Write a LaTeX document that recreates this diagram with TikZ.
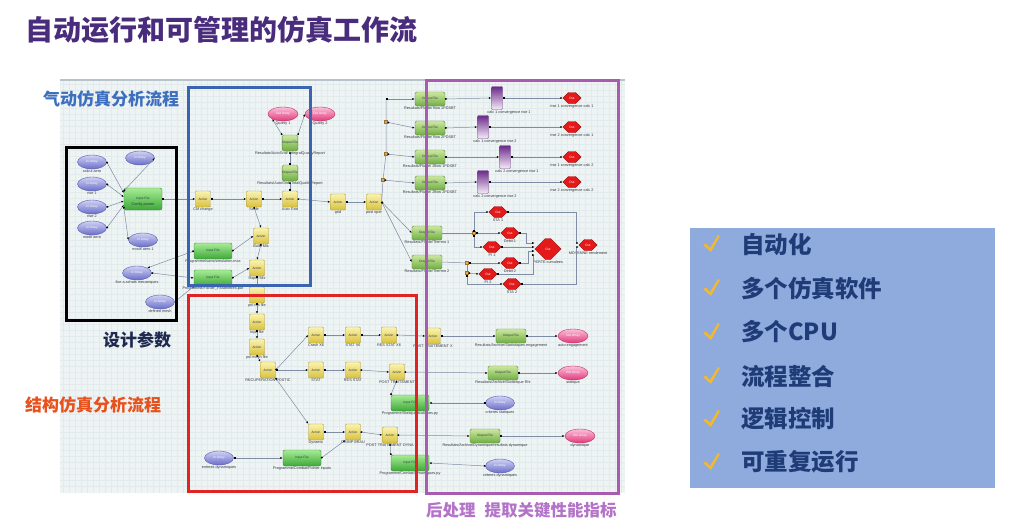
\documentclass[tikz,border=0pt]{standalone}
\usepackage{fontspec}
\setmainfont{Liberation Sans}
\newfontfamily\cjk{Noto Sans CJK SC}
\usetikzlibrary{shapes.geometric,shapes.symbols,arrows.meta,calc}
\definecolor{titlec}{HTML}{4A2C7C}
\definecolor{bluelab}{HTML}{3C6FC0}
\definecolor{navy}{HTML}{1E2A50}
\definecolor{redlab}{HTML}{E8501C}
\definecolor{purlab}{HTML}{B373C8}
\definecolor{panelbg}{HTML}{EEF3F3}
\definecolor{gridc}{HTML}{E2EAEC}
\definecolor{panelline}{HTML}{B8C2CA}
\definecolor{rpanel}{HTML}{8FAADC}
\definecolor{rtext}{HTML}{1F3C78}
\definecolor{checkc}{HTML}{F2B830}
\definecolor{fblue}{HTML}{3B64B0}
\definecolor{fred}{HTML}{E02424}
\definecolor{fpur}{HTML}{A85CB0}
\definecolor{acttop}{HTML}{FBF3B0}
\definecolor{actbot}{HTML}{D9C23E}
\definecolor{actd}{HTML}{A89830}
\definecolor{inftop}{HTML}{A6EC96}
\definecolor{infbot}{HTML}{3DA838}
\definecolor{infd}{HTML}{3A8A3A}
\definecolor{outtop}{HTML}{CDE8A0}
\definecolor{outbot}{HTML}{6EAE42}
\definecolor{outd}{HTML}{5A8A40}
\definecolor{iatop}{HTML}{D0D2F4}
\definecolor{iabot}{HTML}{6A6EC8}
\definecolor{iad}{HTML}{5A5CB0}
\definecolor{oatop}{HTML}{FBC0DA}
\definecolor{oabot}{HTML}{E03A7C}
\definecolor{oad}{HTML}{C03060}
\definecolor{hexf}{HTML}{E41A1A}
\definecolor{hexd}{HTML}{A01010}
\definecolor{cvtop}{HTML}{6A2A8A}
\definecolor{cvbot}{HTML}{F6ECF8}
\definecolor{cvd}{HTML}{7A4A90}
\definecolor{jnf}{HTML}{E8B060}
\definecolor{jnd}{HTML}{A07020}
\definecolor{lnc}{HTML}{7F8CA6}
\definecolor{lblc}{HTML}{333A44}
\tikzset{
 base/.style={inner sep=0pt, font=\fontsize{3.2}{3.5}\selectfont},
 act/.style={base, draw=actd, rounded corners=1pt, top color=acttop, bottom color=actbot, minimum width=15pt, minimum height=16pt, text=lblc},
 inf/.style={base, draw=infd, rounded corners=2pt, top color=inftop, bottom color=infbot, minimum width=38pt, minimum height=16pt, text=lblc},
 outf/.style={base, draw=outd, rounded corners=1.5pt, top color=outtop, bottom color=outbot, minimum width=30pt, minimum height=14pt, text=lblc},
 outfs/.style={outf, minimum width=15pt, minimum height=16pt},
 inarr/.style={base, ellipse, draw=iad, top color=iatop, bottom color=iabot, minimum width=29pt, minimum height=14pt, text=white},
 outarr/.style={base, ellipse, draw=oad, top color=oatop, bottom color=oabot, minimum width=30pt, minimum height=14pt, text=white},
 hexa/.style={base, signal, signal to=east and west, draw=hexd, fill=hexf, minimum width=18pt, minimum height=11pt, text=white},
 conv/.style={base, draw=cvd, rounded corners=1pt, top color=cvtop, bottom color=cvbot, minimum width=11pt, minimum height=23pt},
 jn/.style={draw=jnd, fill=jnf, minimum size=3pt, inner sep=0pt, rectangle},
 lbl/.style={font=\fontsize{3.8}{4}\selectfont, text=lblc, inner sep=0.8pt},
 conn/.style={draw=lnc, line width=0.5pt, {Square[length=1.5pt,width=1.5pt,color=black]}-{Latex[length=2.4pt,width=2pt,color=black]}},
 plain/.style={draw=lnc, line width=0.5pt},
 frame/.style={line width=3pt},
}
\begin{document}
\begin{tikzpicture}[x=1pt,y=-1pt]
\useasboundingbox (0,0) rectangle (1024,527);
\fill[white] (0,0) rectangle (1024,527);
% title
\node[anchor=west, text=titlec, font=\cjk\bfseries\fontsize{28}{30}\selectfont, inner sep=0pt] (title) at (25,30) {自动运行和可管理的仿真工作流};
% panel
\fill[panelbg] (60,80) rectangle (625,493);
\foreach \gx in {63,69,...,621} {\draw[gridc, line width=0.25pt] (\gx,80) -- (\gx,493);}
\foreach \gy in {84,90,...,490} {\draw[gridc, line width=0.25pt] (60,\gy) -- (625,\gy);}
\draw[panelline, line width=2pt] (60,80) -- (625,80);

% ---------- left: design parameters ----------
\node[inarr, label={[lbl]below:calcul aero}] (ia1) at (92,162) {In Array};
\node[inarr, label={[lbl]below:rise 1}] (ia2) at (92,184) {In Array};
\node[inarr, label={[lbl]below:rise 2}] (ia3) at (92,207) {In Array};
\node[inarr, label={[lbl]below:modif aero}] (ia4) at (92,228) {In Array};
\node[inarr] (ia5) at (140,158) {In Array};
\node[inarr, label={[lbl]below:modif aero 1}] (ia6) at (143,240) {In Array};
\node[inf, minimum height=22pt, label={[lbl,yshift=8pt]below:Config param}] (cfg) at (143,199) {Input File};
\node[inarr, label={[lbl]below:fixe a achats mecaniques}] (ia7) at (137,273) {In Array};
\node[inarr, label={[lbl]below:defined mesh}] (ia8) at (160,302) {In Array};

% ---------- blue: aero ----------
\node[act, label={[lbl]below:CM change}] (a1) at (203,199) {Action};
\node[act, label={[lbl]below:Scale}] (a2) at (254,199) {Action};
\node[act, label={[lbl]below:Auto Grid}] (a3) at (290,199) {Action};
\node[act, label={[lbl]below:Build Mix}] (a4) at (261,236) {Action};
\node[act, label={[lbl]below:Rapid Mix}] (a5) at (257,268) {Action};
\node[inf, label={[lbl]below:Programme/sans/simulation.mac}] (if1) at (213,251) {Input File};
\node[inf, label={[lbl]below:Programme/Fichier\_Parametres.par}] (if2) at (213,278) {Input File};
\node[outarr, label={[lbl]below:Quality 1}] (qa1) at (283,114) {Out Array};
\node[outarr, label={[lbl]below:Quality 2}] (qa2) at (320,114) {Out Array};
\node[outfs, label={[lbl]below:Resultats/AutoGrid/ IntegralQualityReport}] (of1) at (290,143) {Output File};
\node[outfs, label={[lbl]below:Resultats/AutoGrid/ TotalQualityReport}] (of2) at (290,173) {Output File};
\node[act, label={[lbl]below:grid}] (a6) at (338,202) {Action};
\node[act, label={[lbl]below:post oper}] (a7) at (374,202) {Action};

% ---------- purple: post-processing ----------
\node[outf, label={[lbl]below:Resultats/Fluide/ flow 1PDSBT}] (o1) at (430,99) {Output File};
\node[outf, label={[lbl]below:Resultats/Fluide/ flow 2PDSBT}] (o2) at (430,128) {Output File};
\node[outf, label={[lbl]below:Resultats/Fluide/ 2flow 1PDSBT}] (o3) at (430,157) {Output File};
\node[outf, label={[lbl]below:Resultats/Fluide/ 2flow 2PDSBT}] (o4) at (430,183) {Output File};
\node[conv, label={[lbl,xshift=12pt]below:calc 1 convergence rise 1}] (cv1) at (497,98) {};
\node[conv, label={[lbl,xshift=12pt]below:calc 1 convergence rise 2}] (cv2) at (483,127) {};
\node[conv, label={[lbl,xshift=12pt]below:calc 2 convergence rise 1}] (cv3) at (505,157) {};
\node[conv, label={[lbl,xshift=12pt]below:calc 2 convergence rise 2}] (cv4) at (483,182) {};
\node[hexa, label={[lbl]below:rise 1 convergence calc 1}] (h1) at (572,98) {Out};
\node[hexa, label={[lbl]below:rise 2 convergence calc 1}] (h2) at (572,127) {Out};
\node[hexa, label={[lbl]below:rise 1 convergence calc 2}] (h3) at (572,157) {Out};
\node[hexa, label={[lbl]below:rise 2 convergence calc 2}] (h4) at (572,182) {Out};
\node[jn] (j1) at (386,122) {};
\node[jn] (j2) at (386,154) {};
\node[jn] (j3) at (383,180) {};
\coordinate (jtop) at (386,99);
\node[outf, label={[lbl]below:Resultats/Fluide/Thermo 1}] (o5) at (427,233) {Output File};
\node[outf, label={[lbl]below:Resultats/Fluide/Thermo 2}] (o6) at (427,262) {Output File};
\node[jn] (jA) at (474,233) {};
\node[jn] (jB) at (467,263) {};
\node[jn] (jC) at (467,273) {};
\node[hexa, label={[lbl]below:STA 1}] (sta1) at (498,212) {Out};
\node[hexa, label={[lbl]below:Debit 1}] (d1) at (510,233) {Out};
\node[hexa, label={[lbl]below:PI 1}] (pi1) at (492,247) {Out};
\node[hexa, label={[lbl]below:Debit 2}] (d2) at (510,263) {Out};
\node[hexa, label={[lbl]below:PI 2}] (pi2) at (488,274) {Out};
\node[hexa, label={[lbl]below:STA 2}] (sta2) at (512,284) {Out};
\node[hexa, minimum width=17pt, minimum height=21pt, label={[lbl]below:PERTE cumulees}] (perte) at (548,249) {Out};
\node[hexa, label={[lbl]below:MOYENNE rendement}] (moy) at (588,245) {Out};

% ---------- red: structure ----------
\node[act, label={[lbl]below:pol res file}] (b1) at (257,295) {Action};
\node[act, label={[lbl]below:topo file}] (b2) at (257,322) {Action};
\node[act, label={[lbl]below:pol mesh file}] (b3) at (257,347) {Action};
\node[act, label={[lbl]below:RECUPERATION POSTIC}] (rec) at (268,370) {Action};
\node[act, label={[lbl]below:Crash X6}] (c1) at (316,335) {Action};
\node[act, label={[lbl]below:STAT X6}] (c2) at (353,335) {Action};
\node[act, label={[lbl]below:RES STAT X6}] (c3) at (389,335) {Action};
\node[act, label={[lbl]below:POST TRAITEMENT X}] (c4) at (433,336) {Action};
\node[outf, label={[lbl]below:Resultats/Archive/Statistiques engagement}] (oc) at (511,336) {Output File};
\node[outarr, label={[lbl]below:auto engagement}] (oa1) at (573,336) {Out Array};
\node[act, label={[lbl]below:STAT}] (s1) at (316,370) {Action};
\node[act, label={[lbl]below:RES STAT}] (s2) at (353,370) {Action};
\node[act, label={[lbl]below:POST TRAITEMENT}] (s3) at (397,372) {Action};
\node[outf, label={[lbl]below:Resultats/Archive/Statistique Rhi}] (os) at (503,373) {Output File};
\node[outarr, label={[lbl]below:statique}] (oa2) at (573,373) {Out Array};
\node[inf, label={[lbl]below:Programme/Statique/statiques.py}] (ifs) at (410,403) {Input File};
\node[inarr, label={[lbl]below:criteres statiques}] (ias) at (500,403) {In Array};
\node[act, label={[lbl]below:Dynamic}] (dy1) at (316,432) {Action};
\node[act, label={[lbl]below:CRIMP BRAU}] (dy2) at (353,432) {Action};
\node[act, label={[lbl]below:POST TRAITEMENT DYNA}] (dy3) at (390,435) {Action};
\node[outf, label={[lbl]below:Resultats/Archive/Dynamique/resultats dynamique}] (od) at (485,436) {Output File};
\node[outarr, label={[lbl]below:dynamique}] (oa3) at (580,436) {Out Array};
\node[inf, label={[lbl]below:Programme/Combat/Fichier inputs}] (ifd1) at (302,458) {Input File};
\node[inarr, label={[lbl]below:entrees dynamiques}] (iad1) at (219,458) {In Array};
\node[inf, label={[lbl]below:Programme/Combat/dynamiques.py}] (ifd2) at (410,463) {Input File};
\node[inarr, label={[lbl]below:criteres dynamiques}] (iad2) at (500,466) {In Array};

% ---------- connectors ----------
\draw[conn] (ia1.east) -- ($(cfg.west)+(0,-6)$);
\draw[conn] (ia2.east) -- ($(cfg.west)+(0,-2)$);
\draw[conn] (ia3.east) -- ($(cfg.west)+(0,2)$);
\draw[conn] (ia4.east) -- ($(cfg.west)+(0,6)$);
\draw[conn] ($(cfg.west)+(0,-8)$) -- (ia5.east);
\draw[conn] ($(cfg.west)+(0,8)$) -- (ia6.west);
\draw[conn] (cfg.east) -- (a1.west);
\draw[conn] (a1.east) -- (a2.west);
\draw[conn] (a2.east) -- (a3.west);
\draw[conn] (a2.south) -- (a4.north);
\draw[conn] (a4.south) -- (a5.north);
\draw[conn] (if1.east) -- (a4.west);
\draw[conn] (if1.west) -- (ia7.north east);
\draw[conn] (ia7.east) -- (if2.west);
\draw[conn] (if2.east) -- (a5.west);
\draw[conn] (if2.south west) -- (ia8.east);
\draw[conn] (of1.north west) -- (qa1.south west);
\draw[conn] (of1.north east) -- (qa2.west);
\draw[conn] (of2.north) -- (of1.south);
\draw[conn] (a3.north) -- (of2.south);
\draw[conn] (a3.east) -- (a6.west);
\draw[conn] (a6.east) -- (a7.west);
\draw[plain] (a7.east) -- (j3.center) -- (j2.center) -- (j1.center) -- (jtop);
\draw[conn] (jtop) -- (o1.west);
\draw[conn] (j1) -- (o2.west);
\draw[conn] (j2) -- (o3.west);
\draw[conn] (j3) -- (o4.west);
\draw[conn] (a7.east) -- (o5.west);
\draw[conn] (a7.east) -- (o6.west);
\draw[conn] (o1.east) -- (cv1.west);
\draw[conn] (o2.east) -- (cv2.west);
\draw[conn] (o3.east) -- (cv3.west);
\draw[conn] (o4.east) -- (cv4.west);
\draw[conn] (cv1.east) -- (h1.west);
\draw[conn] (cv2.east) -- (h2.west);
\draw[conn] (cv3.east) -- (h3.west);
\draw[conn] (cv4.east) -- (h4.west);
\draw[plain] (o5.east) -- (jA);
\draw[conn] (jA) |- (sta1.west);
\draw[conn] (jA) -- (d1.west);
\draw[conn] (jA) |- (pi1.west);
\draw[plain] (o6.east) -- (jB);
\draw[conn] (jB) -- (d2.west);
\draw[plain] (jB) -- (jC);
\draw[conn] (jC) -- (pi2.west);
\draw[conn] (jC) |- (sta2.west);
\draw[conn] (d1.east) -- (526,233) |- ($(perte.west)+(0,-6)$);
\draw[conn] (pi1.east) -- ($(perte.west)+(0,-2)$);
\draw[conn] (d2.east) -- (528,263) |- ($(perte.west)+(0,2)$);
\draw[conn] (pi2.east) -- (533,274) |- ($(perte.west)+(0,6)$);
\draw[conn] (sta1.east) -- (576,212) |- ($(moy.west)+(0,-2)$);
\draw[conn] (sta2.east) -- (576,284) |- ($(moy.west)+(0,2)$);
% structure
\draw[conn] (a5.south) -- (b1.north);
\draw[conn] (b1.south) -- (b2.north);
\draw[conn] (b2.south) -- (b3.north);
\draw[conn] (b3.south) -- (rec.north west);
\draw[conn] (rec.east) -- (c1.west);
\draw[conn] (c1.east) -- (c2.west);
\draw[conn] (c2.east) -- (c3.west);
\draw[conn] (c3.east) -- (c4.west);
\draw[conn] (c4.east) -- (oc.west);
\draw[conn] (oc.east) -- (oa1.west);
\draw[conn] (rec.east) -- (s1.west);
\draw[conn] (s1.east) -- (s2.west);
\draw[conn] (s2.east) -- (s3.west);
\draw[conn] (s3.east) -- (os.west);
\draw[conn] (os.east) -- (oa2.west);
\draw[conn] (ifs.north west) -- (s3.south);
\draw[conn] (ias.west) -- (ifs.east);
\draw[conn] (rec.south east) -- (dy1.north west);
\draw[conn] (dy1.east) -- (dy2.west);
\draw[conn] (dy2.east) -- (dy3.west);
\draw[conn] (dy3.east) -- (od.west);
\draw[conn] (od.east) -- (oa3.west);
\draw[conn] (ifd1.east) -- (dy2.south west);
\draw[conn] (iad1.east) -- (ifd1.west);
\draw[conn] (ifd2.north west) -- (dy3.south);
\draw[conn] (iad2.west) -- (ifd2.east);

% ---------- frames ----------
\draw[frame, black] (66,147) rectangle (176,320);
\draw[frame, fblue] (188,87) rectangle (310,285);
\draw[frame, fred] (188,295) rectangle (416,491);
\draw[frame, fpur] (426,80) rectangle (618,493);

% ---------- labels ----------
\node[anchor=west, inner sep=0pt, text=bluelab, font=\cjk\bfseries\fontsize{17}{19}\selectfont] (lab1) at (43,99) {气动仿真分析流程};
\node[anchor=west, inner sep=0pt, text=navy, font=\cjk\bfseries\fontsize{17}{19}\selectfont] (lab2) at (103,340) {设计参数};
\node[anchor=west, inner sep=0pt, text=redlab, font=\cjk\bfseries\fontsize{17}{19}\selectfont] (lab3) at (25,405) {结构仿真分析流程};
\node[anchor=west, inner sep=0pt, text=purlab, font=\cjk\bfseries\fontsize{16.5}{18}\selectfont] (lab4) at (426,510) {后处理\hspace{9pt}提取关键性能指标};

% ---------- right panel ----------
\fill[rpanel] (690,228) rectangle (995,488);
\foreach \yy/\tt [count=\i] in {244/自动化,288/多个仿真软件,332/多个CPU,376/流程整合,419/逻辑控制,462/可重复运行} {
  \fill[checkc] (703,\yy+1) -- (706,\yy-0.5) -- (710,\yy+4) -- (718,\yy-9) -- (720,\yy-8) -- (711,\yy+8) -- cycle;
  \node[anchor=west, inner sep=0pt, text=rtext, font=\cjk\bfseries\fontsize{23.5}{25}\selectfont] (item\i) at (741,\yy) {\tt};
}
\end{tikzpicture}
\end{document}
